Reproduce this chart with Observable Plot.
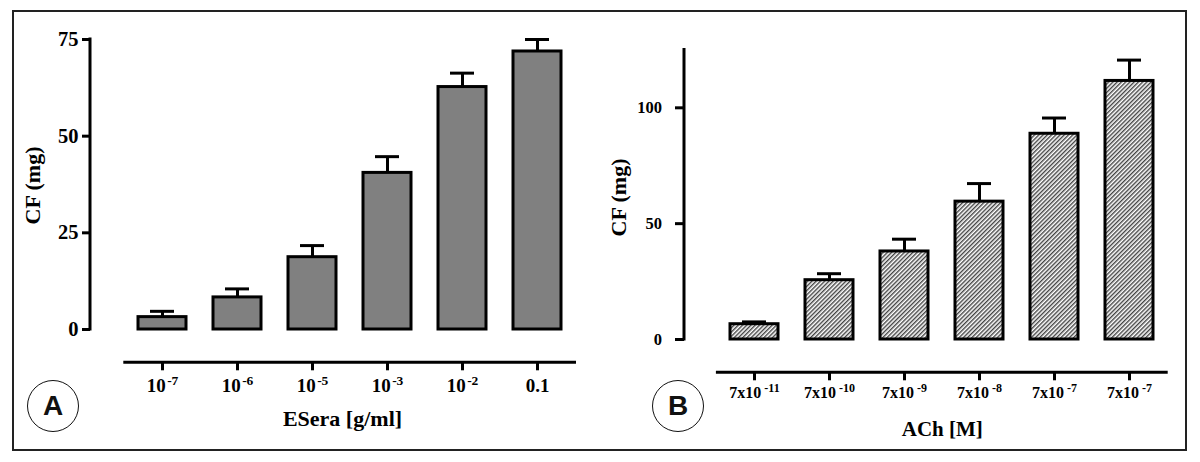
<!DOCTYPE html>
<html>
<head>
<meta charset="utf-8">
<script src="https://cdn.jsdelivr.net/npm/d3@7"></script>
<script src="https://cdn.jsdelivr.net/npm/@observablehq/plot@0.6"></script>
<style>
  html, body { margin: 0; padding: 0; background: #fff; }
  #wrap { position: relative; width: 1200px; height: 462px; overflow: hidden; background: #fff; }
  #border { position: absolute; left: 12px; top: 10px; width: 1175px; height: 441px; border: 2px solid #222; box-sizing: border-box; }
  .panel { position: absolute; top: 0; width: 600px; height: 462px; }
  .badge { position: absolute; width: 52px; height: 52px; border: 1.6px solid #111; border-radius: 50%; box-sizing: border-box;
           display: flex; align-items: center; justify-content: center;
           font: bold 28px "Liberation Sans", Arial, sans-serif; color: #111; background: #fff; }
</style>
</head>
<body>
<svg width="0" height="0" style="position:absolute">
  <defs>
    <pattern id="hatch" width="3" height="3" patternUnits="userSpaceOnUse" patternTransform="rotate(45)">
      <rect width="3" height="3" fill="#fff"></rect>
      <line x1="0.75" y1="0" x2="0.75" y2="3" stroke="#222" stroke-width="1.2"></line>
    </pattern>
  </defs>
</svg>
<div id="wrap">
  <div id="border"></div>
  <div class="panel" id="pa" style="left:0px"></div>
  <div class="panel" id="pb" style="left:600px"></div>
  <div class="badge" style="left:27px; top:380px">A</div>
  <div class="badge" style="left:652px; top:380px">B</div>
</div>
<script>
// ---- Panel A data: ESera [g/ml] ----
const esLabels = ["10^-7", "10^-6", "10^-5", "10^-3", "10^-2", "0.1"];
const esMean   = [3.2, 8.3, 18.7, 40.5, 62.7, 71.9];
const esErr    = [1.5, 2.2, 3.0, 4.2, 3.6, 3.1];
const esTicks  = [0, 25, 50, 75];

// ---- Panel B data: ACh [M] ----
const achLabels = ["7x10^-11", "7x10^-10", "7x10^-9", "7x10^-8", "7x10^-7", "7x10^-7"];
const achMean   = [6.6, 25.6, 38.0, 59.5, 88.8, 111.6];
const achErr    = [1.0, 2.8, 5.3, 7.8, 6.8, 9.0];
const achTicks  = [0, 50, 100];

const NS = "http://www.w3.org/2000/svg";

function axisLines(yMax, offset) {
  return (index, scales, values, dim) => {
    const g = document.createElementNS(NS, "g");
    const mk = (x1, y1, x2, y2, cap) => {
      const l = document.createElementNS(NS, "line");
      l.setAttribute("x1", x1); l.setAttribute("y1", y1);
      l.setAttribute("x2", x2); l.setAttribute("y2", y2);
      l.setAttribute("stroke", "#000"); l.setAttribute("stroke-width", 3);
      l.setAttribute("stroke-linecap", cap);
      g.appendChild(l);
    };
    const x0 = dim.marginLeft;
    mk(x0, scales.y(0), x0, scales.y(yMax), "square");
    const r = typeof scales.x.range === "function" ? scales.x.range()
      : [dim.marginLeft, dim.width - dim.marginRight];
    const ya = dim.height - dim.marginBottom + offset;
    mk(r[0], ya, r[1], ya, "butt");
    return g;
  };
}

function supify(svg, supSize, gap, rise) {
  svg.querySelectorAll('g[aria-label="x-axis tick label"] text').forEach(t => {
    const s = t.textContent;
    const k = s.indexOf("^");
    if (k < 0) return;
    t.textContent = s.slice(0, k);
    const ts = document.createElementNS(NS, "tspan");
    ts.setAttribute("dy", -rise);
    ts.setAttribute("dx", gap);
    ts.style.fontSize = supSize + "px";
    ts.textContent = s.slice(k + 1);
    t.appendChild(ts);
  });
}

function panel(o) {
  const data = o.labels.map((l, i) => ({i, mean: o.mean[i], err: o.err[i]}));
  const svg = Plot.plot({
    width: 600, height: 462,
    marginTop: o.mt, marginBottom: o.mb, marginLeft: o.ml, marginRight: o.mr,
    style: {fontFamily: "'Liberation Serif', 'Times New Roman', serif", background: "transparent", color: "#000", overflow: "visible"},
    x: {type: "band", domain: d3.range(o.labels.length), range: o.xRange, paddingInner: 0.36, paddingOuter: 0.18},
    y: {domain: [0, o.yMax]},
    marks: [
      Plot.barY(data, {x: "i", y: "mean", fill: o.fill, stroke: "#000", strokeWidth: 3}),
      Plot.ruleX(data, {x: "i", y1: "mean", y2: d => d.mean + d.err, stroke: "#000", strokeWidth: 3}),
      Plot.tickY(data, {x: "i", y: d => d.mean + d.err, stroke: "#000", strokeWidth: 3, insetLeft: 12, insetRight: 12}),
      Plot.axisY({ticks: o.yTicks, tickFormat: d => String(d), tickSize: o.ytSize, tickPadding: o.ytPad,
                  fontSize: o.yFont, fontWeight: "bold", fill: "#000", strokeWidth: 3, label: null}),
      Plot.axisX({tickFormat: i => o.labels[i], tickSize: 8, tickPadding: o.xtPad, dy: 33.3,
                  fontSize: o.xFont, fontWeight: "bold", fill: "#000", strokeWidth: 3, label: null}),
      axisLines(o.yMax, 33.3),
      Plot.text([o.xLabel], {text: d => d, frameAnchor: "bottom", lineAnchor: "bottom", textAnchor: "middle",
                  dx: o.xlDx, dy: o.xlDy, fontSize: o.xlFont, fontWeight: "bold", fill: "#000"}),
      Plot.text([o.yLabel], {text: d => d, frameAnchor: "left", rotate: -90, textAnchor: "middle", lineAnchor: "middle",
                  dx: o.ylDx, dy: o.ylDy, fontSize: 22, fontWeight: "bold", fill: "#000"})
    ]
  });
  supify(svg, o.supFont, o.supGap, o.supRise);
  return svg;
}

document.getElementById("pa").appendChild(panel({
  labels: esLabels, mean: esMean, err: esErr, yTicks: esTicks, yMax: 75,
  mt: 39, mb: 133, ml: 90, mr: 24, xRange: [123.3, 576],
  fill: "#808080",
  ytSize: 8, ytPad: 4, yFont: 20.5,
  xtPad: 7.5, xFont: 19, supFont: 13.5, supGap: 1.5, supRise: 7,
  xLabel: "ESera [g/ml]", xlDx: 9, xlDy: 96, xlFont: 22,
  yLabel: "CF (mg)", ylDx: -57.5, ylDy: 1
}));

document.getElementById("pb").appendChild(panel({
  labels: achLabels, mean: achMean, err: achErr, yTicks: achTicks, yMax: 125,
  mt: 49.4, mb: 123, ml: 84, mr: 32.3, xRange: [115.9, 567.7],
  fill: "url(#hatch)",
  ytSize: 9, ytPad: 13.5, yFont: 16.5,
  xtPad: 6, xFont: 16, supFont: 12, supGap: 3, supRise: 6,
  xLabel: "ACh [M]", xlDx: 15.9, xlDy: 96, xlFont: 21,
  yLabel: "CF (mg)", ylDx: -66, ylDy: 2.8
}));
</script>
</body>
</html>
